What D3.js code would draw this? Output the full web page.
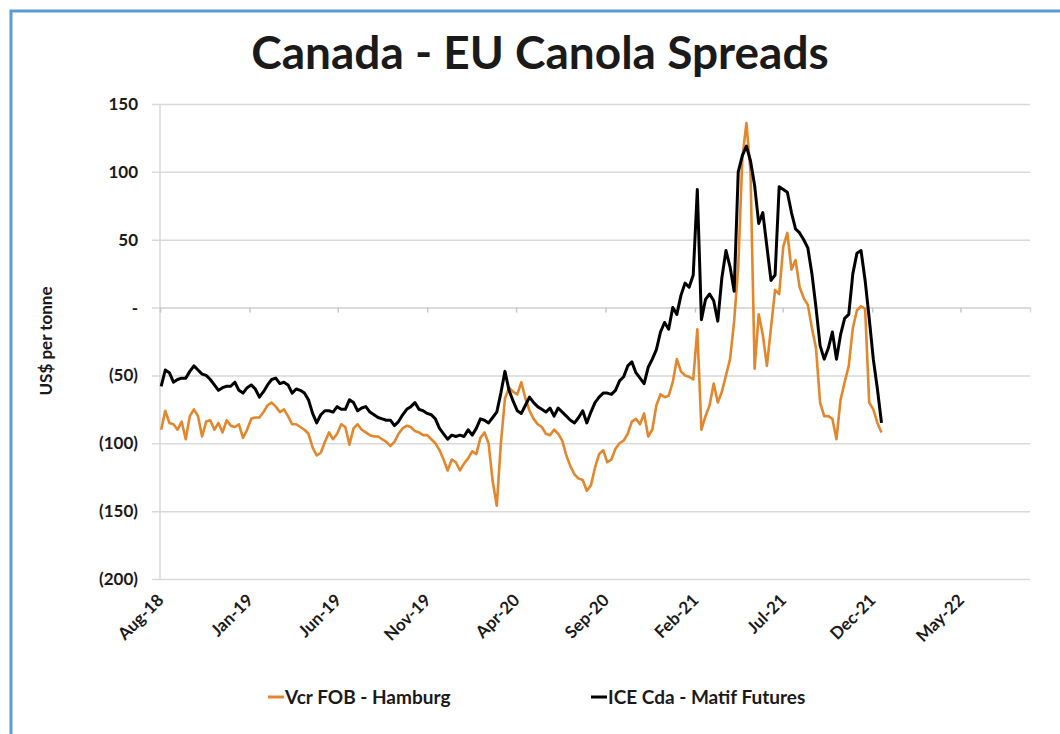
<!DOCTYPE html>
<html>
<head>
<meta charset="utf-8">
<script src="https://cdn.jsdelivr.net/npm/d3@7"></script>
<style>
  body { margin: 0; background: #fff; }
  svg text { font-family: Lato, "Open Sans", sans-serif; font-weight: 700; fill: #1a1a1a; }
</style>
</head>
<body>
<div id="chart"></div>
<script>
// weekly series, first week = Aug 3 2018
var startWeek = "2018-08-03";

var vcrFob = [
  -90,-76,-85,-86,-90,-84,-97,-80,-75,-80,-95,-84,-83,-90,-85,-92,-83,-87,-88,-86,-96,-90,-82,-81,-81,-77,-72,-70,-73,-77,
  -75,-80,-86,-86,-88,-90,-93,-103,-109,-107,-99,-92,-97,-93,-86,-88,-101,-89,-86,-90,-92,-94,-95,-95,-97,-99,-102,-99,-93,-89,
  -87,-88,-91,-92,-94,-94,-97,-100,-105,-112,-120,-112,-114,-120,-115,-111,-106,-108,-96,-92,-100,-128,-146,-100,-67,-59,-62,-64,-55,-67,
  -76,-82,-86,-88,-93,-94,-90,-93,-98,-109,-117,-123,-126,-127,-135,-131,-118,-108,-105,-114,-112,-104,-100,-98,-93,-84,-82,-86,-78,-95,
  -90,-72,-64,-66,-65,-55,-38,-47,-50,-51,-53,-16,-90,-80,-72,-56,-70,-62,-50,-38,-10,30,110,136,100,-45,-5,-20,-43,-15,
  13,10,45,55,28,35,15,7,2,-15,-30,-70,-80,-80,-82,-97,-68,-55,-43,-15,-2,1,-1,-70,-75,-85,-92
];

var iceMatif = [
  -58,-46,-48,-55,-53,-52,-52,-47,-43,-46,-49,-50,-53,-57,-61,-59,-58,-58,-55,-61,-63,-59,-57,-60,-66,-62,-57,-53,-52,-56,
  -55,-57,-63,-60,-61,-63,-68,-78,-85,-79,-76,-76,-77,-73,-75,-75,-68,-70,-76,-74,-73,-77,-79,-81,-82,-83,-83,-87,-84,-79,
  -75,-73,-70,-75,-76,-78,-79,-82,-89,-93,-97,-94,-95,-94,-95,-90,-94,-89,-82,-83,-85,-81,-77,-63,-47,-61,-69,-76,-78,-72,
  -66,-70,-73,-75,-77,-74,-80,-74,-77,-80,-83,-85,-81,-76,-85,-77,-70,-66,-63,-63,-64,-61,-54,-51,-43,-40,-48,-52,-56,-44,
  -38,-31,-18,-11,-16,0,-5,9,18,15,24,87,-9,6,10,5,-10,22,42,30,12,100,112,119,108,90,62,70,45,20,
  24,89,87,85,70,58,55,50,44,25,0,-28,-38,-30,-18,-38,-20,-8,-5,25,40,42,20,-8,-38,-60,-85
];

var xTickLabels = ["Aug-18","Jan-19","Jun-19","Nov-19","Apr-20","Sep-20","Feb-21","Jul-21","Dec-21","May-22"];
var yTicks = [150, 100, 50, 0, -50, -100, -150, -200];

var seriesNames = ["Vcr FOB - Hamburg", "ICE Cda - Matif Futures"];
var seriesColors = ["#e3872d", "#000000"];

var W = 1060, H = 734;
var plot = {left: 160, right: 1030, top: 104, bottom: 579};

var parseMonth = d3.timeParse("%b-%y");
var tickDates = xTickLabels.map(parseMonth);
var firstDay = d3.timeParse("%Y-%m-%d")(startWeek);
var dates = vcrFob.map(function (v, i) { return d3.timeDay.offset(firstDay, i * 7); });

var svg = d3.select("#chart").append("svg")
  .attr("width", W)
  .attr("height", H);

// outer frame
svg.append("rect")
  .attr("x", 11).attr("y", 11)
  .attr("width", W + 20).attr("height", H + 20)
  .attr("fill", "#fff")
  .attr("stroke", "#5b9bd5")
  .attr("stroke-width", 3);

var x = d3.scaleTime()
  .domain([new Date(2018, 7, 1), new Date(2022, 7, 28)])
  .range([plot.left, plot.right]);

var y = d3.scaleLinear()
  .domain([-200, 150])
  .range([plot.bottom, plot.top]);

var yFmt = function (v) {
  if (v === 0) return "-";
  return v < 0 ? "(" + (-v) + ")" : String(v);
};

// gridlines + y labels
var gy = svg.append("g")
  .attr("transform", "translate(152,0)")
  .call(d3.axisLeft(y).tickValues(yTicks).tickSize(-(plot.right - 152)).tickPadding(14).tickFormat(yFmt));
gy.select(".domain").remove();
gy.selectAll(".tick line").attr("stroke", "#d9d9d9").attr("stroke-width", 1.5);
gy.selectAll(".tick text").style("font-size", "17px");

// vertical axis line
svg.append("line")
  .attr("x1", plot.left).attr("x2", plot.left)
  .attr("y1", plot.top).attr("y2", plot.bottom)
  .attr("stroke", "#d9d9d9").attr("stroke-width", 1.5);

// x axis at zero with small ticks
var gx = svg.append("g")
  .attr("transform", "translate(0," + y(0) + ")")
  .call(d3.axisBottom(x).tickValues(tickDates).tickSize(5).tickFormat(""));
gx.select(".domain").attr("stroke", "#d9d9d9").attr("stroke-width", 1.5);
gx.selectAll(".tick line").attr("stroke", "#c8c8c8").attr("stroke-width", 1.5);

// rotated date labels at the bottom
var gl = svg.append("g")
  .attr("transform", "translate(0," + plot.bottom + ")")
  .call(d3.axisBottom(x).tickValues(tickDates).tickSize(0).tickFormat(function (d, i) { return xTickLabels[i]; }));
gl.select(".domain").remove();
gl.selectAll(".tick text")
  .attr("x", 0).attr("y", 0).attr("dy", "0.35em")
  .attr("text-anchor", "end")
  .attr("transform", "translate(0,18) rotate(-45)")
  .style("font-size", "17px");

// series lines
var line = d3.line()
  .x(function (d) { return x(d.date); })
  .y(function (d) { return y(d.value); });

[vcrFob, iceMatif].forEach(function (vals, k) {
  svg.append("path")
    .datum(vals.map(function (v, i) { return {date: dates[i], value: v}; }))
    .attr("fill", "none")
    .attr("stroke", seriesColors[k])
    .attr("stroke-width", k === 0 ? 2.6 : 3)
    .attr("stroke-linejoin", "round")
    .attr("d", line);
});

// title
svg.append("text")
  .attr("x", 540).attr("y", 69)
  .attr("text-anchor", "middle")
  .style("font-size", "46px")
  .text("Canada - EU Canola Spreads");

// y title
svg.append("text")
  .attr("transform", "translate(52,341) rotate(-90)")
  .attr("text-anchor", "middle")
  .style("font-size", "17px")
  .text("US$ per tonne");

// legend
var legendX = [268, 591];
var lg = svg.selectAll(".legend")
  .data(seriesNames)
  .enter().append("g")
  .attr("class", "legend")
  .attr("transform", function (d, i) { return "translate(" + legendX[i] + ",697)"; });
lg.append("line")
  .attr("x1", 0).attr("x2", 16)
  .attr("stroke", function (d, i) { return seriesColors[i]; })
  .attr("stroke-width", 3);
lg.append("text")
  .attr("x", 17).attr("dy", "0.35em")
  .style("font-size", "19px")
  .text(function (d) { return d; });
</script>
</body>
</html>
